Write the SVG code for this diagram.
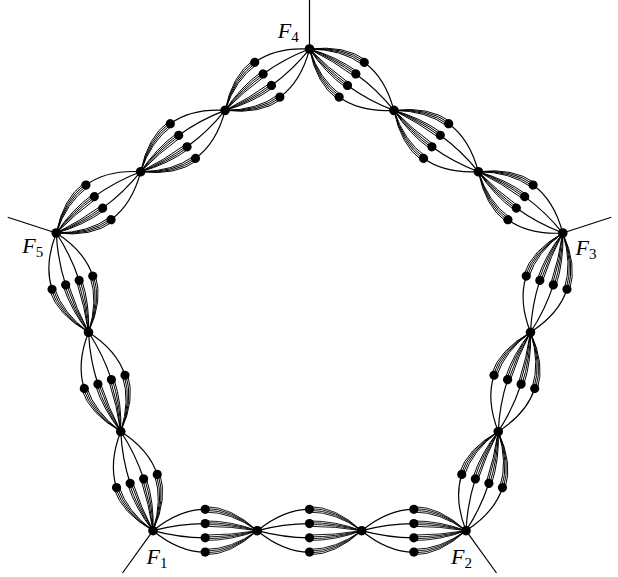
<svg xmlns="http://www.w3.org/2000/svg" xmlns:xlink="http://www.w3.org/1999/xlink" width="618" height="577" viewBox="0 0 618 577">
<style>
.c{fill:none;stroke:#000;stroke-width:1.2}
.b{fill:none;stroke:#000;stroke-width:0.9}
.leg{fill:none;stroke:#000;stroke-width:1.2}
circle{fill:#000}
.lbl{font-family:"Liberation Serif","DejaVu Serif",serif;font-style:italic;font-size:22px;fill:#000}
.sub{font-style:normal;font-size:15px}
</style>
<defs>
<g id="lens">
<path class="c" d="M0,0 Q26.08,-21.4 52.17,-21.4"/>
<path class="c" d="M0,0 Q26.08,-7.1 52.17,-7.1"/>
<path class="c" d="M0,0 Q26.08,7.1 52.17,7.1"/>
<path class="c" d="M0,0 Q26.08,21.4 52.17,21.4"/>
<path class="b" d="M52.17,-24.1 Q78.25,-24.1 104.33,0"/>
<path class="b" d="M52.17,-22.3 Q78.25,-22.3 104.33,0"/>
<path class="b" d="M52.17,-20.5 Q78.25,-20.5 104.33,0"/>
<path class="b" d="M52.17,-18.7 Q78.25,-18.7 104.33,0"/>
<path class="b" d="M52.17,-9.8 Q78.25,-9.8 104.33,0"/>
<path class="b" d="M52.17,-8.0 Q78.25,-8.0 104.33,0"/>
<path class="b" d="M52.17,-6.2 Q78.25,-6.2 104.33,0"/>
<path class="b" d="M52.17,-4.4 Q78.25,-4.4 104.33,0"/>
<path class="b" d="M52.17,4.4 Q78.25,4.4 104.33,0"/>
<path class="b" d="M52.17,6.2 Q78.25,6.2 104.33,0"/>
<path class="b" d="M52.17,8.0 Q78.25,8.0 104.33,0"/>
<path class="b" d="M52.17,9.8 Q78.25,9.8 104.33,0"/>
<path class="b" d="M52.17,18.7 Q78.25,18.7 104.33,0"/>
<path class="b" d="M52.17,20.5 Q78.25,20.5 104.33,0"/>
<path class="b" d="M52.17,22.3 Q78.25,22.3 104.33,0"/>
<path class="b" d="M52.17,24.1 Q78.25,24.1 104.33,0"/>
</g>
<g id="edge">
<use href="#lens" xlink:href="#lens" transform="translate(153,530.7)"/>
<use href="#lens" xlink:href="#lens" transform="translate(257.33,530.7)"/>
<use href="#lens" xlink:href="#lens" transform="translate(361.67,530.7)"/>
</g>
</defs>
<rect width="618" height="577" fill="#fff"/>
<g id="connectors">
<line class="leg" x1="153" y1="530.7" x2="122.5" y2="573"/>
<line class="leg" x1="466" y1="530.7" x2="496.5" y2="573"/>
<line class="leg" x1="562.8" y1="233" x2="611.3" y2="217.2"/>
<line class="leg" x1="309.5" y1="49" x2="309.5" y2="0"/>
<line class="leg" x1="56.2" y1="233" x2="7.7" y2="217.2"/>
<use href="#edge" xlink:href="#edge"/>
<use href="#edge" xlink:href="#edge" transform="rotate(-72 309.5 315.3)"/>
<use href="#edge" xlink:href="#edge" transform="rotate(-144 309.5 315.3)"/>
<use href="#edge" xlink:href="#edge" transform="rotate(-216 309.5 315.3)"/>
<use href="#edge" xlink:href="#edge" transform="rotate(-288 309.5 315.3)"/>
</g>
<g id="F1"><circle cx="153" cy="530.7" r="4.8"/><text class="lbl" x="146.5" y="563.5">F<tspan class="sub" dy="4">1</tspan></text></g>
<g id="F2"><circle cx="466" cy="530.7" r="4.8"/><text class="lbl" x="451" y="563.5">F<tspan class="sub" dy="4">2</tspan></text></g>
<g id="F3"><circle cx="562.8" cy="233" r="4.8"/><text class="lbl" x="575.5" y="255">F<tspan class="sub" dy="4">3</tspan></text></g>
<g id="F4"><circle cx="309.5" cy="49" r="4.8"/><text class="lbl" x="277.8" y="38">F<tspan class="sub" dy="4">4</tspan></text></g>
<g id="F5"><circle cx="56.2" cy="233" r="4.8"/><text class="lbl" x="22.2" y="253">F<tspan class="sub" dy="4">5</tspan></text></g>
<g id="edge12">
<g id="n12a"><circle cx="257.33" cy="530.7" r="4.8"/></g>
<g id="n12b"><circle cx="361.67" cy="530.7" r="4.8"/></g>
<g id="d12-1-1"><circle cx="205.17" cy="509.3" r="4.6"/></g>
<g id="d12-1-2"><circle cx="205.17" cy="523.6" r="4.6"/></g>
<g id="d12-1-3"><circle cx="205.17" cy="537.8" r="4.6"/></g>
<g id="d12-1-4"><circle cx="205.17" cy="552.1" r="4.6"/></g>
<g id="d12-2-1"><circle cx="309.5" cy="509.3" r="4.6"/></g>
<g id="d12-2-2"><circle cx="309.5" cy="523.6" r="4.6"/></g>
<g id="d12-2-3"><circle cx="309.5" cy="537.8" r="4.6"/></g>
<g id="d12-2-4"><circle cx="309.5" cy="552.1" r="4.6"/></g>
<g id="d12-3-1"><circle cx="413.83" cy="509.3" r="4.6"/></g>
<g id="d12-3-2"><circle cx="413.83" cy="523.6" r="4.6"/></g>
<g id="d12-3-3"><circle cx="413.83" cy="537.8" r="4.6"/></g>
<g id="d12-3-4"><circle cx="413.83" cy="552.1" r="4.6"/></g>
</g>
<g id="edge23" transform="rotate(-72 309.5 315.3)">
<g id="n23a"><circle cx="257.33" cy="530.7" r="4.8"/></g>
<g id="n23b"><circle cx="361.67" cy="530.7" r="4.8"/></g>
<g id="d23-1-1"><circle cx="205.17" cy="509.3" r="4.6"/></g>
<g id="d23-1-2"><circle cx="205.17" cy="523.6" r="4.6"/></g>
<g id="d23-1-3"><circle cx="205.17" cy="537.8" r="4.6"/></g>
<g id="d23-1-4"><circle cx="205.17" cy="552.1" r="4.6"/></g>
<g id="d23-2-1"><circle cx="309.5" cy="509.3" r="4.6"/></g>
<g id="d23-2-2"><circle cx="309.5" cy="523.6" r="4.6"/></g>
<g id="d23-2-3"><circle cx="309.5" cy="537.8" r="4.6"/></g>
<g id="d23-2-4"><circle cx="309.5" cy="552.1" r="4.6"/></g>
<g id="d23-3-1"><circle cx="413.83" cy="509.3" r="4.6"/></g>
<g id="d23-3-2"><circle cx="413.83" cy="523.6" r="4.6"/></g>
<g id="d23-3-3"><circle cx="413.83" cy="537.8" r="4.6"/></g>
<g id="d23-3-4"><circle cx="413.83" cy="552.1" r="4.6"/></g>
</g>
<g id="edge34" transform="rotate(-144 309.5 315.3)">
<g id="n34a"><circle cx="257.33" cy="530.7" r="4.8"/></g>
<g id="n34b"><circle cx="361.67" cy="530.7" r="4.8"/></g>
<g id="d34-1-1"><circle cx="205.17" cy="509.3" r="4.6"/></g>
<g id="d34-1-2"><circle cx="205.17" cy="523.6" r="4.6"/></g>
<g id="d34-1-3"><circle cx="205.17" cy="537.8" r="4.6"/></g>
<g id="d34-1-4"><circle cx="205.17" cy="552.1" r="4.6"/></g>
<g id="d34-2-1"><circle cx="309.5" cy="509.3" r="4.6"/></g>
<g id="d34-2-2"><circle cx="309.5" cy="523.6" r="4.6"/></g>
<g id="d34-2-3"><circle cx="309.5" cy="537.8" r="4.6"/></g>
<g id="d34-2-4"><circle cx="309.5" cy="552.1" r="4.6"/></g>
<g id="d34-3-1"><circle cx="413.83" cy="509.3" r="4.6"/></g>
<g id="d34-3-2"><circle cx="413.83" cy="523.6" r="4.6"/></g>
<g id="d34-3-3"><circle cx="413.83" cy="537.8" r="4.6"/></g>
<g id="d34-3-4"><circle cx="413.83" cy="552.1" r="4.6"/></g>
</g>
<g id="edge45" transform="rotate(-216 309.5 315.3)">
<g id="n45a"><circle cx="257.33" cy="530.7" r="4.8"/></g>
<g id="n45b"><circle cx="361.67" cy="530.7" r="4.8"/></g>
<g id="d45-1-1"><circle cx="205.17" cy="509.3" r="4.6"/></g>
<g id="d45-1-2"><circle cx="205.17" cy="523.6" r="4.6"/></g>
<g id="d45-1-3"><circle cx="205.17" cy="537.8" r="4.6"/></g>
<g id="d45-1-4"><circle cx="205.17" cy="552.1" r="4.6"/></g>
<g id="d45-2-1"><circle cx="309.5" cy="509.3" r="4.6"/></g>
<g id="d45-2-2"><circle cx="309.5" cy="523.6" r="4.6"/></g>
<g id="d45-2-3"><circle cx="309.5" cy="537.8" r="4.6"/></g>
<g id="d45-2-4"><circle cx="309.5" cy="552.1" r="4.6"/></g>
<g id="d45-3-1"><circle cx="413.83" cy="509.3" r="4.6"/></g>
<g id="d45-3-2"><circle cx="413.83" cy="523.6" r="4.6"/></g>
<g id="d45-3-3"><circle cx="413.83" cy="537.8" r="4.6"/></g>
<g id="d45-3-4"><circle cx="413.83" cy="552.1" r="4.6"/></g>
</g>
<g id="edge51" transform="rotate(-288 309.5 315.3)">
<g id="n51a"><circle cx="257.33" cy="530.7" r="4.8"/></g>
<g id="n51b"><circle cx="361.67" cy="530.7" r="4.8"/></g>
<g id="d51-1-1"><circle cx="205.17" cy="509.3" r="4.6"/></g>
<g id="d51-1-2"><circle cx="205.17" cy="523.6" r="4.6"/></g>
<g id="d51-1-3"><circle cx="205.17" cy="537.8" r="4.6"/></g>
<g id="d51-1-4"><circle cx="205.17" cy="552.1" r="4.6"/></g>
<g id="d51-2-1"><circle cx="309.5" cy="509.3" r="4.6"/></g>
<g id="d51-2-2"><circle cx="309.5" cy="523.6" r="4.6"/></g>
<g id="d51-2-3"><circle cx="309.5" cy="537.8" r="4.6"/></g>
<g id="d51-2-4"><circle cx="309.5" cy="552.1" r="4.6"/></g>
<g id="d51-3-1"><circle cx="413.83" cy="509.3" r="4.6"/></g>
<g id="d51-3-2"><circle cx="413.83" cy="523.6" r="4.6"/></g>
<g id="d51-3-3"><circle cx="413.83" cy="537.8" r="4.6"/></g>
<g id="d51-3-4"><circle cx="413.83" cy="552.1" r="4.6"/></g>
</g>
</svg>
